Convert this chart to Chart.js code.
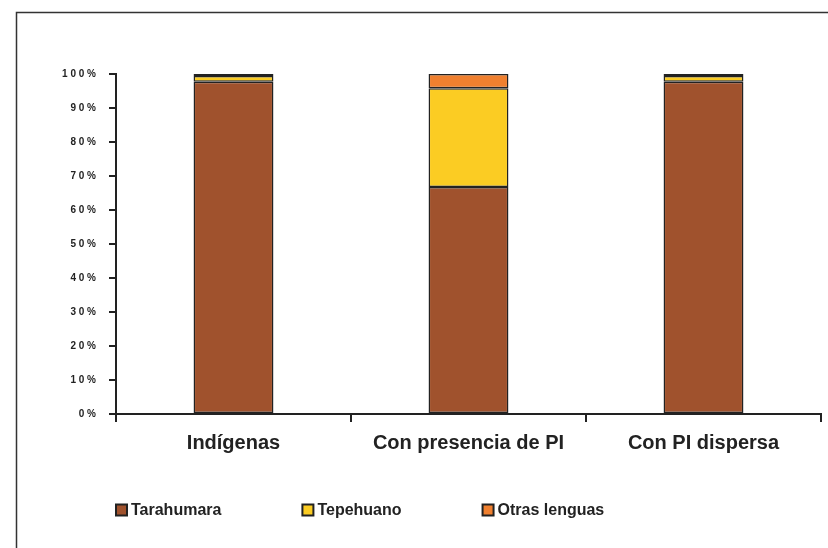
<!DOCTYPE html>
<html>
<head>
<meta charset="utf-8">
<script src="https://cdn.jsdelivr.net/npm/chart.js@4"></script>
<style>
  html, body { margin: 0; padding: 0; background: #fff; }
  #wrap { width: 828px; height: 548px; position: relative; }
</style>
</head>
<body>
<div id="wrap"><canvas id="chart" width="828" height="548"></canvas></div>
<script>
const categories = ['Indígenas', 'Con presencia de PI', 'Con PI dispersa'];
const tarahumara = [97.7, 66.8, 97.7];
const tepehuano = [1.7, 29.0, 1.7];
const otras = [0.6, 4.2, 0.6];
const yTickLabels = ['0 %', '1 0 %', '2 0 %', '3 0 %', '4 0 %', '5 0 %', '6 0 %', '7 0 %', '8 0 %', '9 0 %', '1 0 0 %'];

const ink = '#222';
const legendFont = 'bold 16px Arial';

// frame around the whole chart (only left/top edges are visible)
const framePlugin = {
  id: 'frame',
  beforeDraw(chart) {
    const c = chart.ctx;
    c.save();
    c.strokeStyle = '#333';
    c.lineWidth = 1.5;
    c.strokeRect(16.5, 12.5, 1000, 1000);
    c.restore();
  }
};

// legend row drawn under the category labels
const legendPlugin = {
  id: 'rowLegend',
  afterDraw(chart) {
    const c = chart.ctx;
    const y = chart.chartArea.bottom + 96;
    let x = chart.chartArea.left;
    c.save();
    c.font = legendFont;
    c.textBaseline = 'middle';
    chart.data.datasets.forEach(ds => {
      c.fillStyle = ds.backgroundColor;
      c.fillRect(x, y - 5.5, 11, 11);
      c.strokeStyle = ink;
      c.lineWidth = 2;
      c.strokeRect(x, y - 5.5, 11, 11);
      c.fillStyle = ink;
      c.fillText(ds.label, x + 15, y + 1);
      x += 15 + c.measureText(ds.label).width + 81;
    });
    c.restore();
  }
};

function bar(label, data, color) {
  return {
    label: label,
    data: data,
    backgroundColor: color,
    borderColor: ink,
    borderWidth: 1.5,
    borderSkipped: false,
    barPercentage: 0.34,
    categoryPercentage: 1
  };
}

new Chart(document.getElementById('chart'), {
  type: 'bar',
  data: {
    labels: categories,
    datasets: [
      bar('Tarahumara', tarahumara, '#A0522D'),
      bar('Tepehuano', tepehuano, '#FBCC23'),
      bar('Otras lenguas', otras, '#F0802F')
    ]
  },
  plugins: [framePlugin, legendPlugin],
  options: {
    responsive: false,
    animation: false,
    layout: { padding: { left: 0, right: 7, top: 74, bottom: 0 } },
    plugins: {
      tooltip: { enabled: false },
      legend: { display: false }
    },
    scales: {
      x: {
        stacked: true,
        grid: { drawOnChartArea: false, tickLength: 8, color: ink, lineWidth: 2 },
        border: { color: ink, width: 2 },
        ticks: { color: ink, padding: 9, font: { family: 'Arial', size: 20, weight: 'bold' } },
        afterFit(scale) { scale.height = 134; }
      },
      y: {
        stacked: true,
        min: 0,
        max: 100,
        grid: { drawOnChartArea: false, tickLength: 7, color: ink, lineWidth: 2 },
        border: { color: ink, width: 2 },
        ticks: {
          stepSize: 10,
          padding: 13,
          color: ink,
          font: { family: 'Arial', size: 10, weight: 'bold' },
          callback: (v) => yTickLabels[Math.round(v / 10)]
        },
        afterFit(scale) { scale.width = 116; }
      }
    }
  }
});
</script>
</body>
</html>
